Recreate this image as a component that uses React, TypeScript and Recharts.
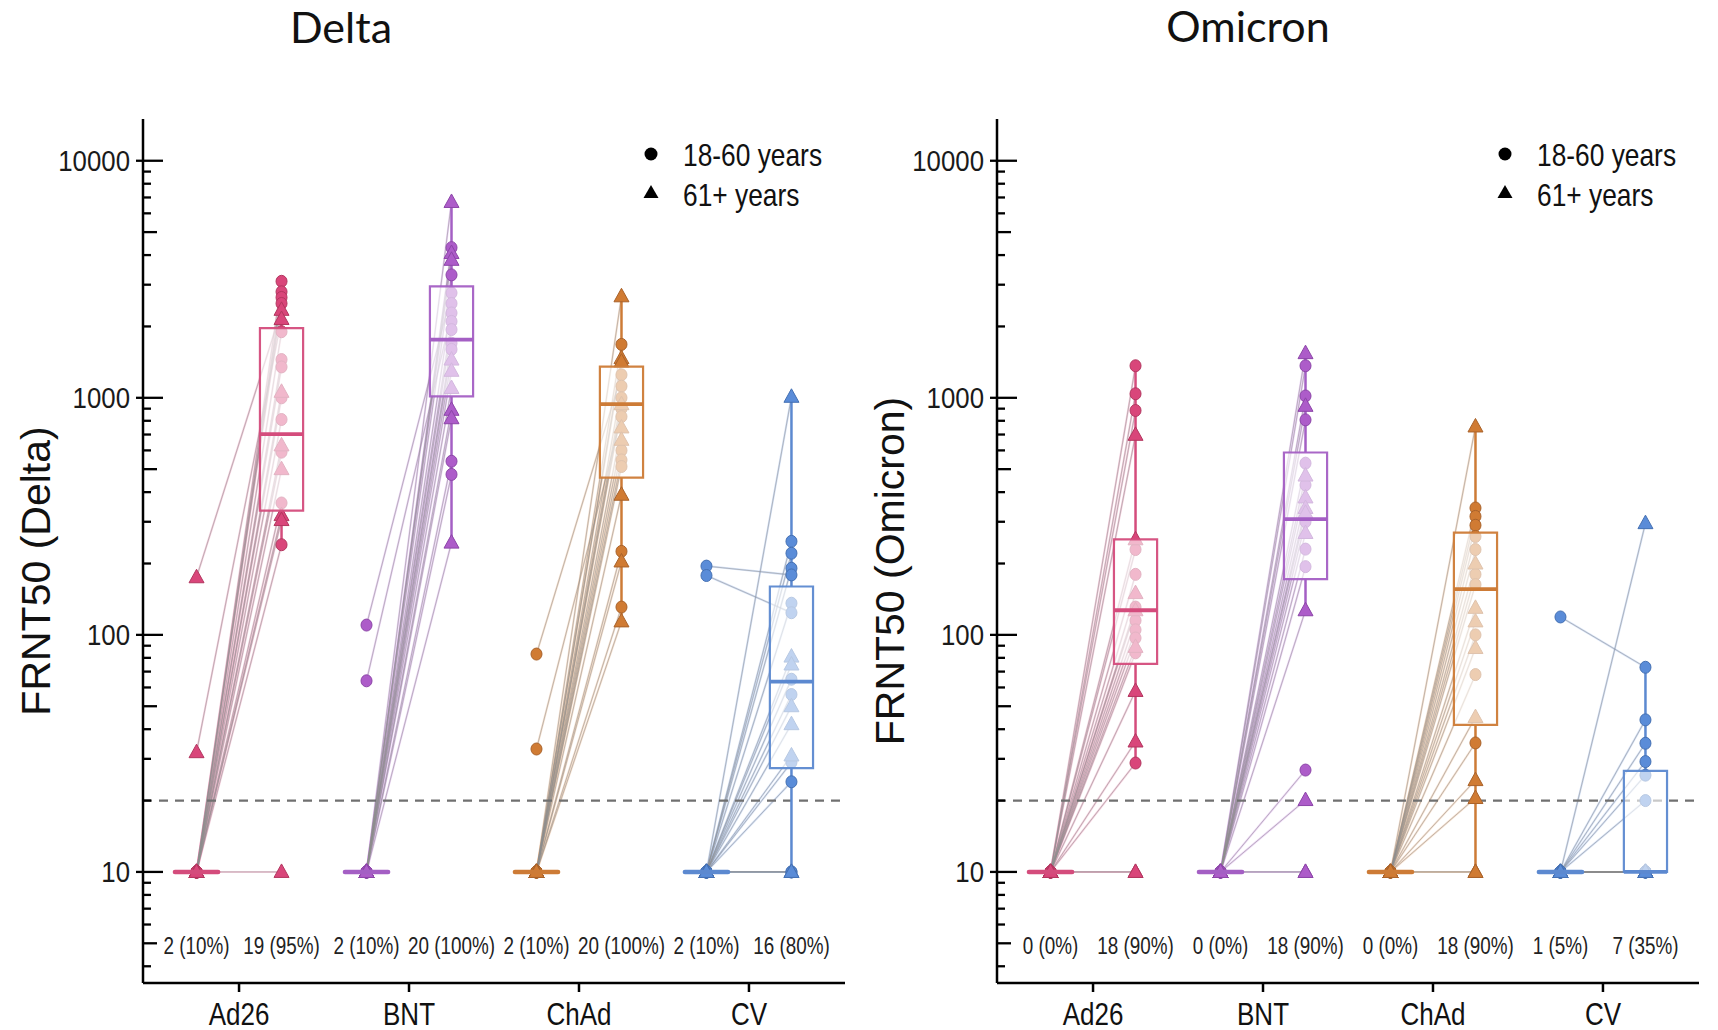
import React from "react";
import { ComposedChart, XAxis, YAxis, Scatter, ReferenceLine, ReferenceArea, Legend } from "recharts";

// ---- data ----
const CATEGORIES = ["Ad26", "BNT", "ChAd", "CV"];
const C = "18-60";
const T = "61+";

const Y_TICKS = [
  4, 5, 6, 7, 8, 9, 10, 20, 30, 40, 50, 60, 70, 80, 90, 100, 200, 300, 400, 500, 600, 700, 800, 900,
  1000, 2000, 3000, 4000, 5000, 6000, 7000, 8000, 9000, 10000,
];
const Y_LABELS = [10, 100, 1000, 10000];
const THRESHOLD = 20;

// Delta
const deltaAd26Pre = [10, 10, 10, 10, 175, 32, 10, 10, 10, 10, 10, 10, 10, 10, 10, 10, 10, 10, 10, 10];
const deltaAd26Post = [3100, 2800, 2650, 2500, 2350, 2150, 1900, 1450, 1350, 1060, 1000, 810, 630, 590, 500, 360, 320, 305, 240, 10];
const deltaAd26Age = [C, C, C, C, T, T, C, C, C, T, C, C, T, C, T, C, T, T, C, T];

const deltaBntPre = [10, 10, 10, 10, 10, 110, 10, 64, 10, 10, 10, 10, 10, 10, 10, 10, 10, 10, 10, 10];
const deltaBntPost = [6700, 4300, 4080, 3820, 3300, 2770, 2500, 2280, 2100, 1940, 1700, 1600, 1450, 1300, 1100, 890, 820, 540, 475, 245];
const deltaBntAge = [T, C, T, T, C, C, C, C, C, C, C, C, T, T, T, T, T, C, C, T];

const deltaChadPre = [10, 10, 10, 10, 83, 10, 10, 10, 10, 33, 10, 10, 10, 10, 10, 10, 10, 10, 10, 10];
const deltaChadPost = [2680, 1680, 1470, 1420, 1250, 1120, 1000, 940, 900, 833, 750, 665, 600, 547, 513, 390, 225, 204, 131, 114];
const deltaChadAge = [T, C, T, T, C, C, C, T, C, C, T, T, C, C, C, T, C, T, C, T];

const deltaCvPre = [10, 10, 10, 10, 195, 10, 178, 10, 10, 10, 10, 10, 10, 10, 10, 10, 10, 10, 10, 10];
const deltaCvPost = [1010, 248, 221, 191, 179, 136, 124, 81, 75, 65, 56, 50, 42, 31, 29, 24, 10, 10, 10, 10];
const deltaCvAge = [T, C, C, C, C, C, C, T, T, C, C, T, T, T, C, C, C, T, C, T];

const deltaQ1 = [334, 1014, 461, 27.4];
const deltaMedian = [703, 1758, 940, 63.5];
const deltaQ3 = [1968, 2950, 1355, 160];
const deltaLow = [240, 245, 114, 10];
const deltaHigh = [3100, 6700, 2680, 1010];
const deltaPreCounts = ["2 (10%)", "2 (10%)", "2 (10%)", "2 (10%)"];
const deltaPostCounts = ["19 (95%)", "20 (100%)", "20 (100%)", "16 (80%)"];

// Omicron
const omiAd26Pre = [10, 10, 10, 10, 10, 10, 10, 10, 10, 10, 10, 10, 10, 10, 10, 10, 10, 10, 10, 10];
const omiAd26Post = [1365, 1040, 884, 698, 253, 229, 180, 150, 131, 127, 115, 105, 97, 89, 84, 58, 35.5, 28.8, 10, 10];
const omiAd26Age = [C, C, C, T, T, C, C, T, C, T, C, C, C, T, C, T, T, C, T, T];

const omiBntPre = [10, 10, 10, 10, 10, 10, 10, 10, 10, 10, 10, 10, 10, 10, 10, 10, 10, 10, 10, 10];
const omiBntPost = [1543, 1365, 1018, 925, 807, 530, 470, 429, 380, 343, 327, 300, 269, 230, 194, 127, 26.9, 20.1, 10, 10];
const omiBntAge = [T, C, C, T, C, C, T, C, T, T, T, C, T, C, C, T, C, T, T, T];

const omiChadPre = [10, 10, 10, 10, 10, 10, 10, 10, 10, 10, 10, 10, 10, 10, 10, 10, 10, 10, 10, 10];
const omiChadPost = [757, 343, 316, 290, 260, 229, 200, 180, 163, 130, 114, 100, 88, 68, 45, 35, 24.4, 20.5, 10, 10];
const omiChadAge = [T, C, C, C, C, C, T, C, C, T, T, C, T, C, T, C, T, T, T, T];

const omiCvPre = [10, 119, 10, 10, 10, 10, 10, 10, 10, 10, 10, 10, 10, 10, 10, 10, 10, 10, 10, 10];
const omiCvPost = [296, 73, 43.8, 34.9, 29.2, 25.6, 20, 10, 10, 10, 10, 10, 10, 10, 10, 10, 10, 10, 10, 10];
const omiCvAge = [T, C, C, C, C, C, C, C, T, C, T, C, T, C, T, C, T, C, C, T];

const omiQ1 = [75.5, 172, 41.7, 10];
const omiMedian = [127, 308, 156, 10];
const omiQ3 = [253, 588, 270, 26.7];
const omiLow = [28.8, 127, 10, 10];
const omiHigh = [1365, 1543, 757, 73];
const omiPreCounts = ["0 (0%)", "0 (0%)", "0 (0%)", "1 (5%)"];
const omiPostCounts = ["18 (90%)", "18 (90%)", "18 (90%)", "7 (35%)"];

// ---- styling ----
const FILL = ["#d9467a", "#ad5cc9", "#d07b33", "#5a8cd8"];
const EDGE = ["#b3365f", "#8c45a8", "#a9622a", "#4470b3"];
const BOX = ["#d44c7c", "#a45fc4", "#cd7b36", "#5c89d0"];
const FAN = ["#eea0bd", "#d9a9ee", "#efc29b", "#a8c2ee"];
const SANS = "'Liberation Sans', Arial, sans-serif";
const PRE = 0.25;
const HALF = 0.127;

type Group = { pre: number[]; post: number[]; age: string[] };

// the figure uses a condensed face; squeeze Liberation Sans horizontally
const Narrow = ({ x, y, size, anchor = "start", squeeze = 0.82, fill = "#111", children }: any) => (
  <text
    transform={`translate(${x}, ${y}) scale(${squeeze}, 1)`}
    textAnchor={anchor}
    dominantBaseline="central"
    fontFamily={SANS}
    fontSize={size}
    fill={fill}
  >
    {children}
  </text>
);

const marker = (fill: string, edge: string, kind: string) => (p: any) => {
  const { cx, cy } = p;
  if (cx == null || cy == null) return <g />;
  if (kind === T) {
    return (
      <polygon
        points={`${cx},${cy - 8} ${cx - 7.5},${cy + 5.5} ${cx + 7.5},${cy + 5.5}`}
        fill={fill}
        stroke={edge}
        strokeWidth={1}
      />
    );
  }
  return <ellipse cx={cx} cy={cy} rx={5.5} ry={6} fill={fill} stroke={edge} strokeWidth={1} />;
};

const YTick = (props: any) => {
  const { x, y, payload } = props;
  const v = payload.value as number;
  const lead = String(v)[0];
  const major = lead === "1";
  const len = major ? 20 : lead === "5" ? 14 : 8;
  return (
    <g>
      <line x1={major ? x - 7 : x} x2={x + len} y1={y} y2={y} stroke="#000" strokeWidth={2.3} />
      {Y_LABELS.includes(v) && (
        <Narrow x={x - 13} y={y} size={30} anchor="end" squeeze={0.86} fill="#1a1a1a">
          {v}
        </Narrow>
      )}
    </g>
  );
};

const XTick = (props: any) => {
  const { x, y, payload } = props;
  return (
    <Narrow x={x} y={y + 22} size={31} anchor="middle" squeeze={0.84}>
      {CATEGORIES[payload.value]}
    </Narrow>
  );
};

const countLabel = (p: any) => (
  <Narrow x={p.cx} y={p.cy + 3} size={23} anchor="middle" squeeze={0.82} fill="#222">
    {p.payload.label}
  </Narrow>
);

const LegendBox = () => (
  <svg width={210} height={84} style={{ overflow: "visible" }}>
    <circle cx={15} cy={22} r={6.5} fill="#000" />
    <Narrow x={47} y={23} size={31} squeeze={0.85}>
      18-60 years
    </Narrow>
    <polygon points="15,53 7.5,66 22.5,66" fill="#000" />
    <Narrow x={47} y={63} size={31} squeeze={0.85}>
      61+ years
    </Narrow>
  </svg>
);

interface PanelProps {
  left: number;
  width: number;
  title: string;
  titleX: number;
  titleY: number;
  yLabel: string;
  groups: Group[];
  q1: number[];
  median: number[];
  q3: number[];
  low: number[];
  high: number[];
  preCounts: string[];
  postCounts: string[];
}

const Panel = ({ left, width, title, titleX, titleY, yLabel, groups, q1, median, q3, low, high, preCounts, postCounts }: PanelProps) => {
  const counts = CATEGORIES.flatMap((_, i) => [
    { x: i - PRE, y: 5, label: preCounts[i] },
    { x: i + PRE, y: 5, label: postCounts[i] },
  ]);

  return (
    <div style={{ position: "absolute", left, top: 0, width, height: 1030 }}>
      <svg width={width} height={64} style={{ position: "absolute", left: 0, top: 0 }}>
        <text x={titleX} y={titleY} textAnchor="middle" fontFamily="Lato, 'Open Sans', sans-serif" fontSize={43} fill="#111">
          {title}
        </text>
      </svg>
      <ComposedChart width={width} height={1030} margin={{ top: 119, right: width - 845, bottom: 0, left: 43 }}>
        <XAxis
          type="number"
          dataKey="x"
          domain={[-0.565, 3.565]}
          allowDataOverflow
          ticks={[0, 1, 2, 3]}
          interval={0}
          height={47}
          tickSize={9}
          tickMargin={0}
          axisLine={{ stroke: "#000", strokeWidth: 2.5 }}
          tickLine={{ stroke: "#000", strokeWidth: 2.5 }}
          tick={<XTick />}
        />
        <YAxis
          type="number"
          dataKey="y"
          scale="log"
          domain={[3.4, 15000]}
          allowDataOverflow
          ticks={Y_TICKS}
          interval={0}
          width={100}
          tickSize={0}
          tickMargin={0}
          tickLine={false}
          axisLine={{ stroke: "#000", strokeWidth: 2.5 }}
          tick={<YTick />}
          label={{
            content: (p: any) => {
              const vb = p.viewBox || { x: 43, y: 119, height: 864 };
              const cx = vb.x - 7;
              const cy = vb.y + vb.height / 2 + 20;
              return (
                <text
                  transform={`translate(${cx}, ${cy}) rotate(-90)`}
                  textAnchor="middle"
                  dominantBaseline="central"
                  fontFamily={SANS}
                  fontSize={41}
                  fill="#111"
                >
                  {yLabel}
                </text>
              );
            },
          }}
        />

        {/* subject connections: soft coloured fan + thin grey line */}
        {groups.map((g, i) =>
          g.pre.map((v, k) => (
            <ReferenceLine
              key={`fan-${i}-${k}`}
              segment={[{ x: i - PRE, y: v }, { x: i + PRE, y: g.post[k] }]}
              stroke={FAN[i]}
              strokeOpacity={0.5}
              strokeWidth={2}
              ifOverflow="visible"
              zIndex={100}
            />
          ))
        )}
        {groups.map((g, i) =>
          g.pre.map((v, k) => (
            <ReferenceLine
              key={`con-${i}-${k}`}
              segment={[{ x: i - PRE, y: v }, { x: i + PRE, y: g.post[k] }]}
              stroke="#8c8c8c"
              strokeOpacity={0.7}
              strokeWidth={0.75}
              ifOverflow="visible"
              zIndex={110}
            />
          ))
        )}

        <ReferenceLine y={THRESHOLD} stroke="#707070" strokeWidth={2.2} strokeDasharray="9 7" zIndex={120} />

        {/* whiskers */}
        {CATEGORIES.map((_, i) => (
          <ReferenceLine
            key={`wl-${i}`}
            segment={[{ x: i + PRE, y: low[i] }, { x: i + PRE, y: q1[i] }]}
            stroke={BOX[i]}
            strokeWidth={2.5}
            ifOverflow="visible"
            zIndex={300}
          />
        ))}
        {CATEGORIES.map((_, i) => (
          <ReferenceLine
            key={`wh-${i}`}
            segment={[{ x: i + PRE, y: q3[i] }, { x: i + PRE, y: high[i] }]}
            stroke={BOX[i]}
            strokeWidth={2.5}
            ifOverflow="visible"
            zIndex={300}
          />
        ))}

        {/* points */}
        {groups.flatMap((g, i) =>
          [C, T].map((kind) => {
            const data = [
              ...g.pre.filter((_, k) => g.age[k] === kind).map((v) => ({ x: i - PRE, y: v })),
              ...g.post.filter((_, k) => g.age[k] === kind).map((v) => ({ x: i + PRE, y: v })),
            ];
            return (
              <Scatter
                key={`pts-${i}-${kind}`}
                data={data}
                shape={marker(FILL[i], EDGE[i], kind)}
                isAnimationActive={false}
                zIndex={600}
              />
            );
          })
        )}

        {/* post boxes */}
        {CATEGORIES.map((_, i) => (
          <ReferenceArea
            key={`box-${i}`}
            x1={i + PRE - HALF}
            x2={i + PRE + HALF}
            y1={q1[i]}
            y2={q3[i]}
            fill="#ffffff"
            fillOpacity={0.62}
            stroke={BOX[i]}
            strokeWidth={2.2}
            strokeOpacity={0.95}
            ifOverflow="visible"
            zIndex={700}
          />
        ))}
        {CATEGORIES.map((_, i) => (
          <ReferenceLine
            key={`med-${i}`}
            segment={[{ x: i + PRE - HALF, y: median[i] }, { x: i + PRE + HALF, y: median[i] }]}
            stroke={BOX[i]}
            strokeWidth={3.8}
            ifOverflow="visible"
            zIndex={800}
          />
        ))}
        {/* pre boxes collapse onto the detection floor */}
        {groups.map((g, i) => (
          <ReferenceLine
            key={`pre-${i}`}
            segment={[{ x: i - PRE - HALF, y: 10 }, { x: i - PRE + HALF, y: 10 }]}
            stroke={BOX[i]}
            strokeWidth={4.5}
            strokeLinecap="round"
            ifOverflow="visible"
            zIndex={800}
          />
        ))}

        <Scatter data={counts} shape={countLabel} isAnimationActive={false} zIndex={900} />

        <Legend
          layout="vertical"
          align="center"
          verticalAlign="middle"
          wrapperStyle={{ position: "absolute", left: 636, top: 132, width: 210, height: 84 }}
          content={() => <LegendBox />}
        />
      </ComposedChart>
    </div>
  );
};

const deltaGroups: Group[] = [
  { pre: deltaAd26Pre, post: deltaAd26Post, age: deltaAd26Age },
  { pre: deltaBntPre, post: deltaBntPost, age: deltaBntAge },
  { pre: deltaChadPre, post: deltaChadPost, age: deltaChadAge },
  { pre: deltaCvPre, post: deltaCvPost, age: deltaCvAge },
];

const omiGroups: Group[] = [
  { pre: omiAd26Pre, post: omiAd26Post, age: omiAd26Age },
  { pre: omiBntPre, post: omiBntPost, age: omiBntAge },
  { pre: omiChadPre, post: omiChadPost, age: omiChadAge },
  { pre: omiCvPre, post: omiCvPost, age: omiCvAge },
];

export default function App() {
  return (
    <div style={{ position: "absolute", left: 0, top: 0, width: 1718, height: 1030, background: "#fff", overflow: "hidden" }}>
      <Panel
        left={0}
        width={870}
        title="Delta"
        titleX={341}
        titleY={43}
        yLabel="FRNT50 (Delta)"
        groups={deltaGroups}
        q1={deltaQ1}
        median={deltaMedian}
        q3={deltaQ3}
        low={deltaLow}
        high={deltaHigh}
        preCounts={deltaPreCounts}
        postCounts={deltaPostCounts}
      />
      <Panel
        left={854}
        width={864}
        title="Omicron"
        titleX={394}
        titleY={42}
        yLabel="FRNT50 (Omicron)"
        groups={omiGroups}
        q1={omiQ1}
        median={omiMedian}
        q3={omiQ3}
        low={omiLow}
        high={omiHigh}
        preCounts={omiPreCounts}
        postCounts={omiPostCounts}
      />
    </div>
  );
}
